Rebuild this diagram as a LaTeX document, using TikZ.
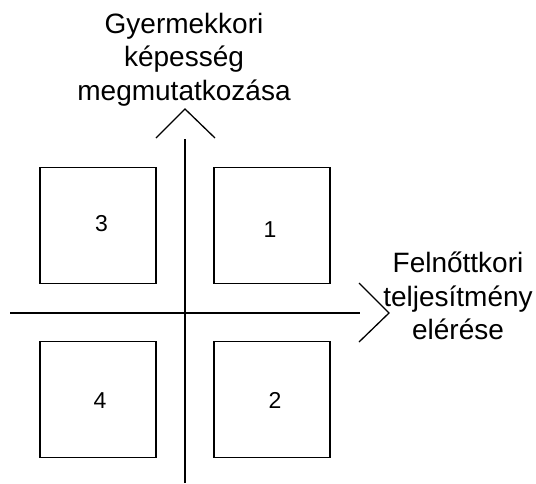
\documentclass[tikz,border=0pt]{standalone}
\usepackage{fontspec}
\setmainfont{Liberation Sans}
\begin{document}
\begin{tikzpicture}[x=1pt,y=-1pt,
  quad/.style={draw,line width=1.2pt,minimum width=116pt,minimum height=116pt,inner sep=0pt},
  num/.style={inner sep=0pt,font=\fontsize{23}{27}\selectfont},
  axis/.style={line width=1.3pt},
  big/.style={align=center,inner sep=0pt,font=\fontsize{28}{33.5}\selectfont}]
\useasboundingbox (0,0) rectangle (536,483);
% boxes
\node[quad] (b3) at (98,225.3) {};
\node[quad] (b1) at (272,225.3) {};
\node[quad] (b4) at (98,399.2) {};
\node[quad] (b2) at (272,399.2) {};
\node[num] (n3) at (101.5,223.3) {3};
\node[num] (n1) at (270,230) {1};
\node[num] (n4) at (100,400.7) {4};
\node[num] (n2) at (275,400.7) {2};
% axes
\coordinate (vt) at (185,139);
\coordinate (vb) at (185,483);
\coordinate (hl) at (10,313);
\coordinate (hr) at (360,313);
\draw[axis] (vb) -- (vt);
\draw[axis] (hl) -- (hr);
% chevrons
\coordinate (ta) at (185,109);
\coordinate (tl) at (156,138);
\coordinate (tr) at (215,138);
\draw[axis] (tl) -- (ta) -- (tr);
\coordinate (ra) at (389,313);
\coordinate (ru) at (359,283);
\coordinate (rd) at (359,342);
\draw[axis] (ru) -- (ra) -- (rd);
% labels
\node[big,anchor=north] (ty) at (184,13) {Gyermekkori\\képesség\\megmutatkozása};
\node[big,anchor=north] (tx) at (458,252) {Felnőttkori\\teljesítmény\\elérése};
\end{tikzpicture}
\end{document}
